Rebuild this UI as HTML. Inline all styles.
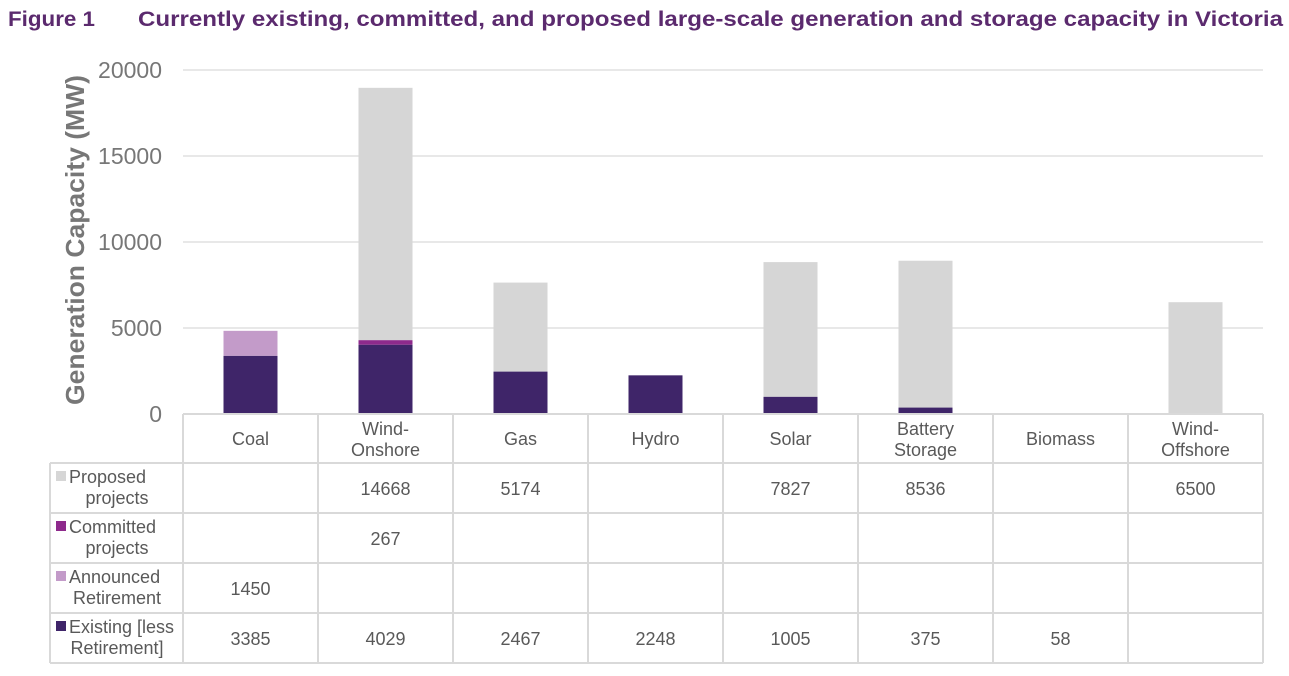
<!DOCTYPE html>
<html><head><meta charset="utf-8"><style>
body{margin:0;background:#fff;width:1289px;height:671px;overflow:hidden;font-family:"Liberation Sans",sans-serif}
</style></head><body>
<svg id="chart" width="1289" height="671" xmlns="http://www.w3.org/2000/svg" font-family="Liberation Sans, sans-serif">
<text x="8" y="26" font-size="21" font-weight="bold" fill="#5b2a6e" textLength="87" lengthAdjust="spacingAndGlyphs">Figure 1</text>
<text x="138" y="26" font-size="21" font-weight="bold" fill="#5b2a6e" textLength="1145" lengthAdjust="spacingAndGlyphs">Currently existing, committed, and proposed large-scale generation and storage capacity in Victoria</text>
<text transform="translate(84,240) rotate(-90)" text-anchor="middle" font-size="26" font-weight="bold" fill="#777" textLength="330" lengthAdjust="spacingAndGlyphs">Generation Capacity (MW)</text>
<g id="grid"></g><g id="bars"></g><g id="table"></g>
</svg>
<script>
const categories=["Coal","Wind-\nOnshore","Gas","Hydro","Solar","Battery\nStorage","Biomass","Wind-\nOffshore"];
const existing=[3385,4029,2467,2248,1005,375,58,null];
const announced=[1450,null,null,null,null,null,null,null];
const committed=[null,267,null,null,null,null,null,null];
const proposed=[null,14668,5174,null,7827,8536,null,6500];
const yTicks=[0,5000,10000,15000,20000];
const seriesNames=[["Proposed","projects"],["Committed","projects"],["Announced","Retirement"],["Existing [less","Retirement]"]];
const colors={existing:"#3f2569",announced:"#c39bc9",committed:"#8e2a8c",proposed:"#d6d6d6"};
const NS="http://www.w3.org/2000/svg";
const x0=183,colW=135,y0=414,yTop=70,yMax=20000;
const y=v=>y0-(v/yMax)*(y0-yTop);
const cx=i=>x0+colW*i+colW/2;
function mk(tag,a,parent){const e=document.createElementNS(NS,tag);for(const k in a)e.setAttribute(k,a[k]);parent.appendChild(e);return e;}
const grid=document.getElementById('grid'),bars=document.getElementById('bars'),tbl=document.getElementById('table');
yTicks.forEach(t=>{
  if(t>0){const l=mk('line',{x1:x0,x2:1263,y1:y(t),y2:y(t),stroke:"#d9d9d9","stroke-width":1.3},grid);
  
  }
  const tx=mk('text',{x:162,y:y(t)+8,"text-anchor":"end","font-size":23,fill:"#777"},grid);tx.textContent=t;
  
  
});
const order=[["existing",existing],["announced",announced],["committed",committed],["proposed",proposed]];
categories.forEach((c,i)=>{
  let base=0;
  order.forEach(([k,arr])=>{
    const v=arr[i]; if(!v) return;
    const r=mk('rect',{x:cx(i)-27,width:54,y:y(base+v),height:y(base)-y(base+v),fill:colors[k]},bars);
    
    
    base+=v;
  });
});
const lc="#d9d9d9";
const rows=[414,463,513,563,613,663];
rows.forEach((ry,j)=>{const l=mk('line',{x1:j==0?x0:50,x2:1263,y1:ry,y2:ry,stroke:lc,"stroke-width":2},tbl);

});
for(let i=0;i<=8;i++){const l=mk('line',{x1:x0+colW*i,x2:x0+colW*i,y1:414,y2:663,stroke:lc,"stroke-width":2},tbl);

}
const l0=mk('line',{x1:50,x2:50,y1:463,y2:663,stroke:lc,"stroke-width":2},tbl);


categories.forEach((c,i)=>{
  const parts=c.split("\n");
  const t=mk('text',{"text-anchor":"middle","font-size":18,fill:"#595959"},tbl);
  
  
  parts.forEach((p,k)=>{const s=mk('tspan',{x:cx(i),y:(parts.length==1?445:435)+k*21},t);s.textContent=p;});
});
const rowData=[proposed,committed,announced,existing];
const rowColors=[colors.proposed,colors.committed,colors.announced,colors.existing];
rowData.forEach((arr,r)=>{
  const top=rows[r+1];
  const sw=mk('rect',{x:56,y:top+8,width:10,height:10,fill:rowColors[r]},tbl);
  
  
  const t=mk('text',{"font-size":18,fill:"#595959","text-anchor":"middle"},tbl);
  
  
  const s1=mk('tspan',{x:69,y:top+20,"text-anchor":"start"},t);s1.textContent=seriesNames[r][0];
  const s2=mk('tspan',{x:117,y:top+41},t);s2.textContent=seriesNames[r][1];
  arr.forEach((v,i)=>{ if(v==null) return;
    const vt=mk('text',{x:cx(i),y:top+32,"text-anchor":"middle","font-size":18,fill:"#595959"},tbl);
    
    
    vt.textContent=v;});
});
</script>
</body></html>
